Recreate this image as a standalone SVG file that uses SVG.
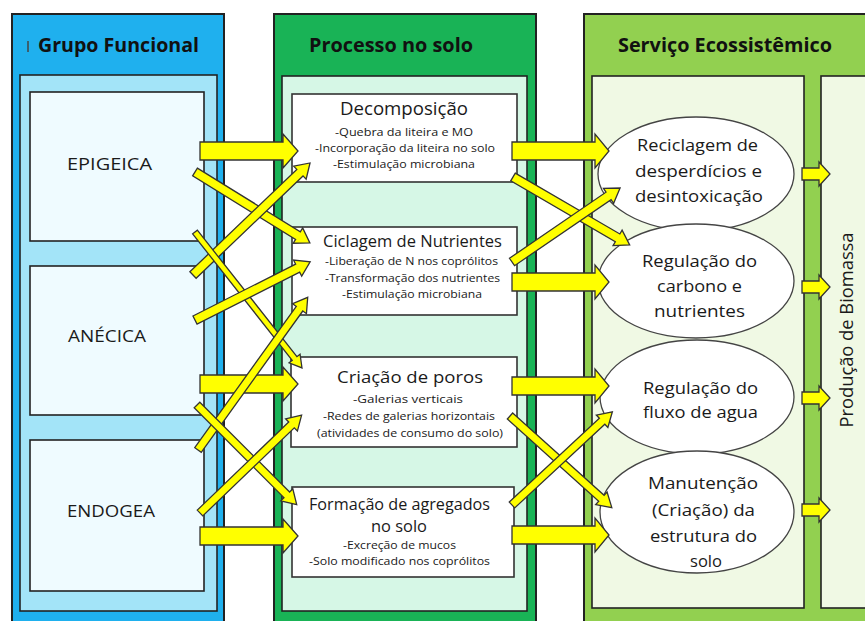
<svg xmlns="http://www.w3.org/2000/svg" width="865" height="621" viewBox="0 0 865 621">
<style>
text{font-family:"Open Sans","Noto Sans","Liberation Sans",sans-serif;fill:#1a1a1a}
.hdr{font-weight:bold;font-size:20px;fill:#111}
.lbl{font-size:17px}
.ttl{font-size:17px}
.big{font-size:18px}
.sub{font-size:11px}
.ell{font-size:17px}
.arw{fill:#ffff00;stroke:#333;stroke-width:1.3;stroke-linejoin:miter}
.box{fill:#ffffff;stroke:#333;stroke-width:1.6}
.elp{fill:#ffffff;stroke:#444;stroke-width:1.3}
</style>
<rect width="865" height="621" fill="#ffffff"/>
<g id="col-grupo">
<rect x="12" y="14" width="212" height="620" fill="#1fb0ee" stroke="#222" stroke-width="2"/>
<rect x="20" y="75" width="197" height="536" fill="#a3e4f8" stroke="#222" stroke-width="1.6"/>
<line x1="28" y1="41" x2="28" y2="52" stroke="#444" stroke-width="1.5"/>
<text class="hdr" x="38" y="52" textLength="161" lengthAdjust="spacingAndGlyphs">Grupo Funcional</text>
</g>
<g id="epigeica">
<rect x="30" y="92" width="174" height="149" fill="#effbff" stroke="#222" stroke-width="1.6"/>
<text class="lbl" x="67" y="170" textLength="85" lengthAdjust="spacingAndGlyphs">EPIGEICA</text>
</g>
<g id="anecica">
<rect x="30" y="266" width="174" height="149" fill="#effbff" stroke="#222" stroke-width="1.6"/>
<text class="lbl" x="68" y="342" textLength="78" lengthAdjust="spacingAndGlyphs">ANÉCICA</text>
</g>
<g id="endogea">
<rect x="30" y="440" width="174" height="151" fill="#effbff" stroke="#222" stroke-width="1.6"/>
<text class="lbl" x="67" y="517" textLength="88" lengthAdjust="spacingAndGlyphs">ENDOGEA</text>
</g>
<g id="col-processo">
<rect x="274" y="14" width="262" height="620" fill="#19b356" stroke="#222" stroke-width="2"/>
<rect x="282" y="76" width="245" height="535" fill="#d6f7e6" stroke="#222" stroke-width="1.6"/>
<text class="hdr" x="309" y="52" textLength="164" lengthAdjust="spacingAndGlyphs">Processo no solo</text>
</g>
<g id="decomposicao">
<rect class="box" x="292" y="94" width="225" height="88"/>
<text class="big" x="340" y="115" textLength="128" lengthAdjust="spacingAndGlyphs">Decomposição</text>
<text class="sub" x="335" y="136" textLength="138" lengthAdjust="spacingAndGlyphs">-Quebra da liteira e MO</text>
<text class="sub" x="315" y="152" textLength="180" lengthAdjust="spacingAndGlyphs">-Incorporação da liteira no solo</text>
<text class="sub" x="333" y="168" textLength="142" lengthAdjust="spacingAndGlyphs">-Estimulação microbiana</text>
</g>
<g id="ciclagem">
<rect class="box" x="292" y="227" width="225" height="88"/>
<text class="ttl" x="323" y="247" textLength="179" lengthAdjust="spacingAndGlyphs">Ciclagem de Nutrientes</text>
<text class="sub" x="325" y="265" textLength="173" lengthAdjust="spacingAndGlyphs">-Liberação de N nos coprólitos</text>
<text class="sub" x="325" y="282" textLength="175" lengthAdjust="spacingAndGlyphs">-Transformação dos nutrientes</text>
<text class="sub" x="342" y="298" textLength="140" lengthAdjust="spacingAndGlyphs">-Estimulação microbiana</text>
</g>
<g id="criacao-poros">
<rect class="box" x="291" y="357" width="226" height="90"/>
<text class="ttl" x="337" y="383" textLength="146" lengthAdjust="spacingAndGlyphs">Criação de poros</text>
<text class="sub" x="353" y="403" textLength="110" lengthAdjust="spacingAndGlyphs">-Galerias verticais</text>
<text class="sub" x="323" y="420" textLength="172" lengthAdjust="spacingAndGlyphs">-Redes de galerias horizontais</text>
<text class="sub" x="317" y="437" textLength="186" lengthAdjust="spacingAndGlyphs">(atividades de consumo do solo)</text>
</g>
<g id="formacao-agregados">
<rect class="box" x="292" y="487" width="222" height="90"/>
<text class="ttl" x="309" y="510" textLength="181" lengthAdjust="spacingAndGlyphs">Formação de agregados</text>
<text class="ttl" x="371" y="532" textLength="56" lengthAdjust="spacingAndGlyphs">no solo</text>
<text class="sub" x="343" y="549" textLength="113" lengthAdjust="spacingAndGlyphs">-Excreção de mucos</text>
<text class="sub" x="309" y="565" textLength="181" lengthAdjust="spacingAndGlyphs">-Solo modificado nos coprólitos</text>
</g>
<g id="col-servico">
<rect x="584" y="14" width="300" height="620" fill="#92d050" stroke="#222" stroke-width="2"/>
<rect x="592" y="76" width="212" height="532" fill="#f0f9e4" stroke="#222" stroke-width="1.6"/>
<text class="hdr" x="618" y="52" textLength="214" lengthAdjust="spacingAndGlyphs">Serviço Ecossistêmico</text>
</g>
<g id="producao-biomassa">
<rect x="821" y="76" width="60" height="532" fill="#f0f9e4" stroke="#222" stroke-width="1.6"/>
<text class="big" transform="translate(853,330) rotate(-90)" text-anchor="middle" textLength="195" lengthAdjust="spacingAndGlyphs">Produção de Biomassa</text>
</g>
<g id="reciclagem">
<ellipse class="elp" cx="696" cy="174" rx="98" ry="57"/>
<text class="ell" x="637" y="151" textLength="121" lengthAdjust="spacingAndGlyphs">Reciclagem de</text>
<text class="ell" x="635" y="177" textLength="127" lengthAdjust="spacingAndGlyphs">desperdícios e</text>
<text class="ell" x="635" y="202" textLength="128" lengthAdjust="spacingAndGlyphs">desintoxicação</text>
</g>
<g id="regulacao-carbono">
<ellipse class="elp" cx="696" cy="281" rx="98" ry="57"/>
<text class="ell" x="642" y="267" textLength="115" lengthAdjust="spacingAndGlyphs">Regulação do</text>
<text class="ell" x="657" y="292" textLength="85" lengthAdjust="spacingAndGlyphs">carbono e</text>
<text class="ell" x="654" y="317" textLength="91" lengthAdjust="spacingAndGlyphs">nutrientes</text>
</g>
<g id="regulacao-agua">
<ellipse class="elp" cx="697" cy="397" rx="97" ry="57"/>
<text class="ell" x="643" y="394" textLength="115" lengthAdjust="spacingAndGlyphs">Regulação do</text>
<text class="ell" x="643" y="418" textLength="115" lengthAdjust="spacingAndGlyphs">fluxo de agua</text>
</g>
<g id="manutencao">
<ellipse class="elp" cx="697" cy="512" rx="97" ry="61"/>
<text class="ell" x="648" y="489" textLength="110" lengthAdjust="spacingAndGlyphs">Manutenção</text>
<text class="ell" x="652" y="516" textLength="103" lengthAdjust="spacingAndGlyphs">(Criação) da</text>
<text class="ell" x="650" y="542" textLength="107" lengthAdjust="spacingAndGlyphs">estrutura do</text>
<text class="ell" x="690" y="567" textLength="32" lengthAdjust="spacingAndGlyphs">solo</text>
</g>
<g id="connectors">
<path class="arw" d="M200,142 H283 V134 L298,151 L283,168 V160 H200 Z"/>
<path class="arw" d="M200,375 H283 V367 L298,384 L283,401 V393 H200 Z"/>
<path class="arw" d="M200,527 H283 V519 L298,536 L283,553 V545 H200 Z"/>
<path class="arw" transform="translate(195,172) rotate(31.7)" d="M0,-4.5 L121,-4.5 L121,-9 L135,0 L121,9 L121,4.5 L0,4.5 Z"/>
<path class="arw" transform="translate(193,275) rotate(-43.75)" d="M0,-4.5 L148,-4.5 L148,-9 L162,0 L148,9 L148,4.5 L0,4.5 Z"/>
<path class="arw" transform="translate(195,232) rotate(51.8)" d="M0,-3 L161,-3 L161,-7 L173,0 L161,7 L161,3 L0,3 Z"/>
<path class="arw" transform="translate(195,320) rotate(-26.8)" d="M0,-4.5 L115,-4.5 L115,-9 L129,0 L115,9 L115,4.5 L0,4.5 Z"/>
<path class="arw" transform="translate(198,450) rotate(-54.3)" d="M0,-4 L174,-4 L174,-8.5 L188,0 L174,8.5 L174,4 L0,4 Z"/>
<path class="arw" transform="translate(197,405) rotate(45)" d="M0,-4 L127,-4 L127,-8.5 L141,0 L127,8.5 L127,4 L0,4 Z"/>
<path class="arw" transform="translate(200,513) rotate(-43.9)" d="M0,-4 L127,-4 L127,-8.5 L141,0 L127,8.5 L127,4 L0,4 Z"/>
<path class="arw" d="M512,142 H595 V134 L609,151 L595,168 V160 H512 Z"/>
<path class="arw" d="M512,273 H595 V265 L609,282 L595,299 V291 H512 Z"/>
<path class="arw" d="M512,377 H595 V369 L609,386 L595,403 V395 H512 Z"/>
<path class="arw" d="M512,526 H595 V518 L609,535 L595,552 V544 H512 Z"/>
<path class="arw" transform="translate(513,177) rotate(30.2)" d="M0,-4.5 L121,-4.5 L121,-9 L135,0 L121,9 L121,4.5 L0,4.5 Z"/>
<path class="arw" transform="translate(512,262) rotate(-34.4)" d="M0,-4.5 L117,-4.5 L117,-9 L131,0 L117,9 L117,4.5 L0,4.5 Z"/>
<path class="arw" transform="translate(510,416) rotate(42)" d="M0,-4 L123,-4 L123,-8.5 L137,0 L123,8.5 L123,4 L0,4 Z"/>
<path class="arw" transform="translate(512,505) rotate(-42.9)" d="M0,-4 L123,-4 L123,-8.5 L137,0 L123,8.5 L123,4 L0,4 Z"/>
<path class="arw" d="M802,168 H819 V162 L830,174 L819,186 V180 H802 Z"/>
<path class="arw" d="M802,281 H819 V275 L830,287 L819,299 V293 H802 Z"/>
<path class="arw" d="M802,392 H819 V386 L830,398 L819,410 V404 H802 Z"/>
<path class="arw" d="M802,504 H819 V498 L830,510 L819,522 V516 H802 Z"/>
</g>
</svg>
